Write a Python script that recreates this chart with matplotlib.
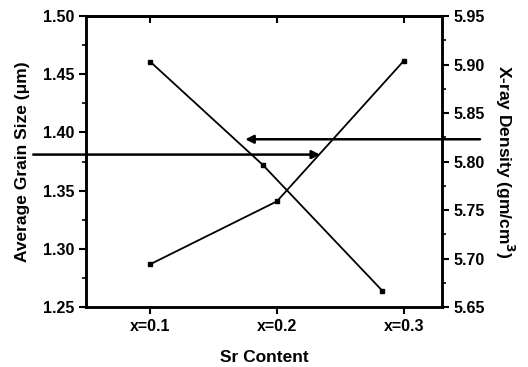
import matplotlib.pyplot as plt
from matplotlib.ticker import MultipleLocator

plt.rcParams['font.family'] = ['Liberation Sans', 'DejaVu Sans']
plt.rcParams['font.weight'] = 'bold'

# Sr content positions and labels
sr_ticks = [0.1, 0.2, 0.3]
sr_labels = ['x=0.1', 'x=0.2', 'x=0.3']

# average grain size (left axis), points drawn slightly off the ticks
grain_x = [0.1, 0.189, 0.283]
grain_size = [1.461, 1.372, 1.264]

# x-ray density (right axis)
density_x = [0.1, 0.2, 0.3]
density = [5.694, 5.759, 5.904]

fig = plt.figure(figsize=(5.28, 3.67), dpi=100)
ax = fig.add_axes([0.163, 0.1635, 0.674, 0.7925])
ax2 = ax.twinx()

ax.plot(grain_x, grain_size, color='black', lw=1.3, marker='s', ms=3)
ax2.plot(density_x, density, color='black', lw=1.3, marker='s', ms=3)

ax.set_xlim(0.0496, 0.33)
ax.set_ylim(1.25, 1.50)
ax2.set_ylim(5.65, 5.95)

ax.set_xticks(sr_ticks)
ax.set_xticklabels(sr_labels)
ax.yaxis.set_major_locator(MultipleLocator(0.05))
ax.yaxis.set_minor_locator(MultipleLocator(0.025))
ax2.yaxis.set_major_locator(MultipleLocator(0.05))
ax2.yaxis.set_minor_locator(MultipleLocator(0.025))
ax.yaxis.set_major_formatter(lambda v, p: f'{v:.2f}')
ax2.yaxis.set_major_formatter(lambda v, p: f'{v:.2f}')

for a in (ax, ax2):
    for s in a.spines.values():
        s.set_linewidth(1.8)
ax.tick_params(axis='both', which='major', direction='out', length=5, width=1.5,
               labelsize=11.5)
ax.tick_params(axis='y', which='minor', direction='out', length=3, width=1.2)
ax2.tick_params(axis='y', which='major', direction='out', length=5, width=1.5,
                labelsize=11.5, pad=3)
ax2.tick_params(axis='y', which='minor', direction='out', length=3, width=1.2)
# top ticks point inward
top = ax.secondary_xaxis('top')
top.set_xticks(sr_ticks, labels=[])
top.tick_params(direction='in', length=5, width=1.5)
top.spines['top'].set_linewidth(1.8)

ax.set_xlabel('Sr Content', fontsize=12.5, fontweight='bold', labelpad=12)
ax.set_ylabel('Average Grain Size (\u03bcm)', fontsize=12.5, fontweight='bold',
              va='center')
ax.yaxis.set_label_coords(-0.18, 0.5)
ax2.set_ylabel('X-ray Density (gm/cm$^3$)', fontsize=12.5, fontweight='bold',
               rotation=270, va='center', ha='center')
ax2.yaxis.set_label_coords(1.175, 0.5)

# arrows marking which curve belongs to which axis
ax.annotate('', xy=(0.234, 1.381), xytext=(0.008, 1.381),
            arrowprops=dict(arrowstyle='-|>', color='black', lw=1.8,
                            mutation_scale=12, shrinkA=0, shrinkB=0),
            annotation_clip=False)
ax2.annotate('', xy=(0.175, 5.823), xytext=(0.36, 5.823),
             arrowprops=dict(arrowstyle='-|>', color='black', lw=1.8,
                             mutation_scale=12, shrinkA=0, shrinkB=0),
             annotation_clip=False)

fig.savefig('out.png', dpi=100)
